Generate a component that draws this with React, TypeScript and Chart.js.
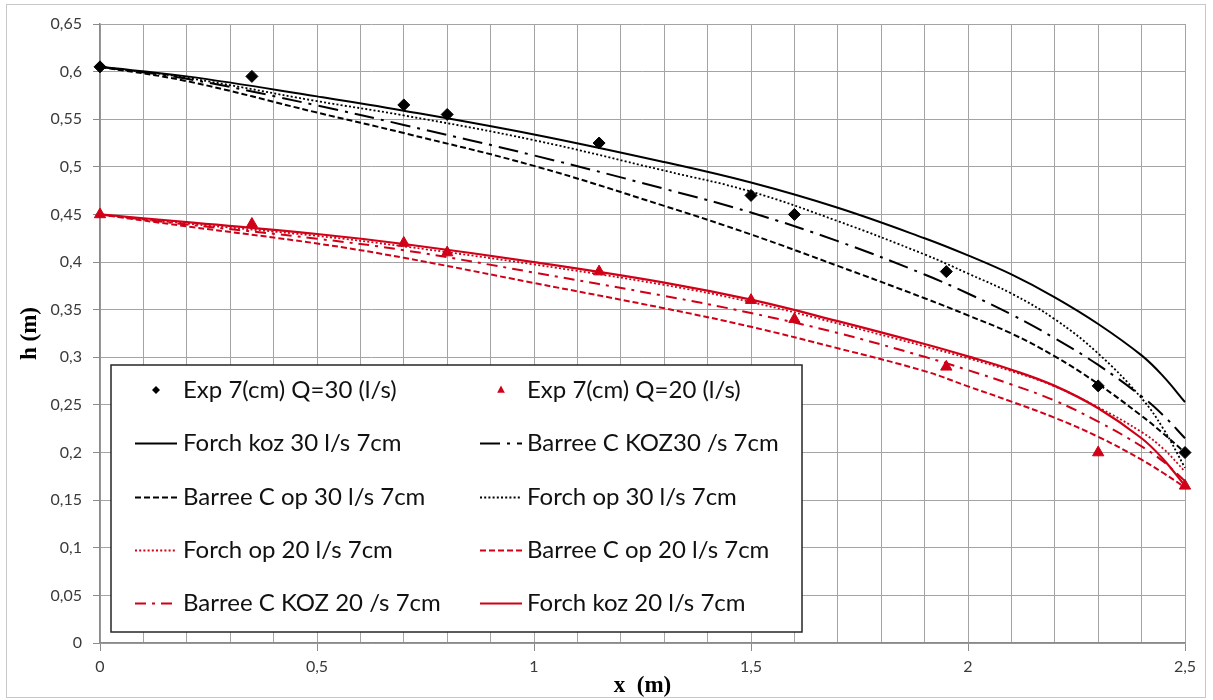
import React, { useEffect, useRef } from 'react';
import { Chart, registerables } from 'chart.js';

Chart.register(...registerables);

// ---- data ----
const expX = [0, 0.35, 0.7, 0.8, 1.15, 1.5, 1.6, 1.95, 2.3, 2.5];
const exp30 = [0.605, 0.595, 0.565, 0.555, 0.525, 0.47, 0.45, 0.39, 0.27, 0.2];
const exp20 = [0.45, 0.44, 0.42, 0.41, 0.39, 0.36, 0.34, 0.29, 0.2, 0.165];

const curveX = [0, 0.2, 0.5, 0.7, 1.0, 1.3, 1.5, 1.7, 1.9, 2.0, 2.1, 2.2, 2.3, 2.4, 2.45, 2.5];
const forchKoz30 = [0.605, 0.595, 0.574, 0.559, 0.534, 0.505, 0.4835, 0.457, 0.425, 0.407, 0.387, 0.363, 0.335, 0.302, 0.28, 0.253];
const barreeKoz30 = [0.605, 0.5925, 0.5645, 0.544, 0.512, 0.477, 0.452, 0.422, 0.387, 0.367, 0.345, 0.32, 0.292, 0.259, 0.239, 0.215];
const barreeOp30 = [0.605, 0.59, 0.557, 0.5355, 0.501, 0.459, 0.429, 0.396, 0.362, 0.344, 0.325, 0.301, 0.272, 0.2385, 0.22, 0.2];
const forchOp30 = [0.605, 0.5935, 0.569, 0.554, 0.528, 0.496, 0.474, 0.443, 0.408, 0.388, 0.367, 0.34, 0.304, 0.257, 0.225, 0.184];
const forchOp20 = [0.45, 0.4405, 0.4275, 0.4165, 0.3975, 0.376, 0.358, 0.3355, 0.3115, 0.299, 0.2855, 0.2695, 0.2475, 0.2215, 0.204, 0.18];
const barreeOp20 = [0.45, 0.4375, 0.4195, 0.4045, 0.378, 0.3515, 0.332, 0.3095, 0.2855, 0.2695, 0.2535, 0.2365, 0.2165, 0.1925, 0.1785, 0.1635];
const barreeKoz20 = [0.45, 0.4395, 0.4245, 0.4125, 0.389, 0.3645, 0.3465, 0.3255, 0.3005, 0.2865, 0.2715, 0.2545, 0.2325, 0.2065, 0.1905, 0.17];
const forchKoz20 = [0.45, 0.442, 0.4295, 0.419, 0.4, 0.3785, 0.3605, 0.338, 0.314, 0.301, 0.287, 0.27, 0.2465, 0.215, 0.193, 0.165];

const seriesLabels = [
  'Exp 7(cm) Q=30 (l/s)',
  'Exp 7(cm) Q=20 (l/s)',
  'Forch koz 30 l/s 7cm',
  'Barree C KOZ30 /s 7cm',
  'Barree C op 30 l/s 7cm',
  'Forch op 30 l/s 7cm',
  'Forch op 20 l/s 7cm',
  'Barree C op 20 l/s 7cm',
  'Barree C KOZ 20 /s 7cm',
  'Forch koz 20 l/s 7cm',
];

const X_MIN = 0;
const X_MAX = 2.5;
const X_STEP = 0.1;
const Y_MIN = 0;
const Y_MAX = 0.65;
const Y_STEP = 0.05;

const BLACK = '#000000';
const RED = '#d00018';
const GRID = '#a4a4a4';
const AXIS = '#8a8a8a';

const toPts = (xs: number[], ys: number[]) => xs.map((x, i) => ({ x, y: ys[i] }));
const fmt = (v: number) => String(Number(v.toFixed(2))).replace('.', ',');
const isHalf = (v: number) => Math.abs(v * 2 - Math.round(v * 2)) < 1e-6;

const curve = (label: string, ys: number[], color: string, width: number, dash: number[]) => ({
  label,
  data: toPts(curveX, ys),
  showLine: true,
  borderColor: color,
  backgroundColor: color,
  borderWidth: width,
  borderDash: dash,
  pointRadius: 0,
  pointHoverRadius: 0,
  tension: 0.4,
  clip: false as const,
});

const legendPlugin = {
  id: 'insideLegend',
  afterDatasetsDraw(chart: any) {
    const ctx: CanvasRenderingContext2D = chart.ctx;
    const box = { x: 111, y: 365, w: 691, h: 267 };
    const rowY0 = 390;
    const rowStep = 53.3;
    const sampleX = [135, 480];
    const sampleW = 42;
    const textX = [183, 527];
    ctx.save();
    ctx.fillStyle = '#ffffff';
    ctx.fillRect(box.x, box.y, box.w, box.h);
    ctx.strokeStyle = '#262626';
    ctx.lineWidth = 1.5;
    ctx.setLineDash([]);
    ctx.strokeRect(box.x, box.y, box.w, box.h);
    chart.data.datasets.forEach((ds: any, i: number) => {
      const row = Math.floor(i / 2);
      const col = i % 2;
      const y = Math.round(rowY0 + row * rowStep);
      ctx.save();
      if (ds.showLine) {
        ctx.strokeStyle = ds.borderColor;
        ctx.lineWidth = ds.borderWidth;
        ctx.setLineDash(ds.borderDash || []);
        ctx.beginPath();
        ctx.moveTo(sampleX[col], y + 0.5);
        ctx.lineTo(sampleX[col] + sampleW, y + 0.5);
        ctx.stroke();
      } else {
        const cx = sampleX[col] + sampleW / 2;
        ctx.fillStyle = ds.backgroundColor;
        ctx.beginPath();
        if (ds.pointStyle === 'rectRot') {
          const r = 4;
          ctx.moveTo(cx, y - r);
          ctx.lineTo(cx + r, y);
          ctx.lineTo(cx, y + r);
          ctx.lineTo(cx - r, y);
        } else {
          const r = 4.5;
          ctx.moveTo(cx, y - r);
          ctx.lineTo(cx + r * 0.85, y + r * 0.6);
          ctx.lineTo(cx - r * 0.85, y + r * 0.6);
        }
        ctx.closePath();
        ctx.fill();
      }
      ctx.restore();
      ctx.fillStyle = '#111111';
      ctx.font = '24px Lato';
      ctx.textBaseline = 'middle';
      ctx.textAlign = 'left';
      ctx.fillText(ds.label, textX[col], y);
    });
    ctx.restore();
  },
};

export default function App() {
  const ref = useRef<HTMLCanvasElement>(null);

  useEffect(() => {
    const canvas = ref.current;
    if (!canvas) return;
    const chart = new Chart(canvas, {
      type: 'scatter',
      data: {
        datasets: [
          {
            label: seriesLabels[0],
            data: toPts(expX, exp30),
            pointStyle: 'rectRot',
            pointRadius: 6,
            backgroundColor: BLACK,
            borderColor: BLACK,
            borderWidth: 1,
            showLine: false,
            clip: false,
          },
          {
            label: seriesLabels[1],
            data: toPts(expX, exp20),
            pointStyle: 'triangle',
            pointRadius: 6.5,
            backgroundColor: RED,
            borderColor: RED,
            borderWidth: 1,
            showLine: false,
            clip: false,
          },
          curve(seriesLabels[2], forchKoz30, BLACK, 2, []),
          curve(seriesLabels[3], barreeKoz30, BLACK, 2, [20, 7, 3, 7]),
          curve(seriesLabels[4], barreeOp30, BLACK, 2, [6, 3]),
          curve(seriesLabels[5], forchOp30, BLACK, 1.8, [2, 2.2]),
          curve(seriesLabels[6], forchOp20, RED, 1.8, [2, 2.2]),
          curve(seriesLabels[7], barreeOp20, RED, 2, [6, 3]),
          curve(seriesLabels[8], barreeKoz20, RED, 2, [11, 6, 3, 6]),
          curve(seriesLabels[9], forchKoz20, RED, 2.2, []),
        ] as any,
      },
      options: {
        animation: false,
        responsive: false,
        maintainAspectRatio: false,
        devicePixelRatio: 1,
        layout: { padding: { left: 0, top: 24, right: 28, bottom: 0 } },
        plugins: {
          legend: { display: false },
          tooltip: { enabled: false },
        },
        scales: {
          x: {
            type: 'linear',
            min: X_MIN,
            max: X_MAX,
            afterFit: (s: any) => {
              s.height = 57;
            },
            afterBuildTicks: (s: any) => {
              const t = [];
              for (let v = X_MIN; v <= X_MAX + 1e-9; v += X_STEP) t.push({ value: Number(v.toFixed(2)) });
              s.ticks = t;
            },
            ticks: {
              autoSkip: false,
              maxRotation: 0,
              padding: 6,
              color: '#3a3a3a',
              font: { family: 'Lato', size: 16 },
              callback: (v: any) => (isHalf(Number(v)) ? fmt(Number(v)) : ''),
            },
            grid: {
              color: GRID,
              lineWidth: 1,
              tickLength: 8,
              tickColor: (c: any) => (c.tick && isHalf(c.tick.value) ? AXIS : 'rgba(0,0,0,0)'),
            },
            border: { color: AXIS, width: 1.5 },
            title: {
              display: true,
              text: 'x  (m)',
              color: '#000',
              font: { family: 'Liberation Serif', size: 23, weight: 'bold' },
              padding: { top: 0, bottom: 0 },
            },
          },
          y: {
            type: 'linear',
            min: Y_MIN,
            max: Y_MAX,
            afterFit: (s: any) => {
              s.width = 100;
            },
            afterBuildTicks: (s: any) => {
              const t = [];
              for (let v = Y_MIN; v <= Y_MAX + 1e-9; v += Y_STEP) t.push({ value: Number(v.toFixed(2)) });
              s.ticks = t;
            },
            ticks: {
              autoSkip: false,
              padding: 11,
              color: '#3a3a3a',
              font: { family: 'Lato', size: 16 },
              callback: (v: any) => fmt(Number(v)),
            },
            grid: {
              color: GRID,
              lineWidth: 1,
              tickLength: 7,
              tickColor: AXIS,
            },
            border: { color: AXIS, width: 1.5 },
            title: {
              display: true,
              text: 'h (m)',
              color: '#000',
              font: { family: 'Liberation Serif', size: 23, weight: 'bold' },
              padding: { top: 16, bottom: 0 },
            },
          },
        },
      },
      plugins: [legendPlugin],
    } as any);
    return () => chart.destroy();
  }, []);

  return (
    <div style={{ position: 'fixed', left: 0, top: 0, width: 1213, height: 700, background: '#ffffff' }}>
      <canvas ref={ref} width={1213} height={700} style={{ display: 'block' }} />
      <div
        style={{
          position: 'absolute',
          left: 6,
          top: 4,
          width: 1200,
          height: 694,
          border: '1px solid #c8c8c8',
          boxSizing: 'border-box',
          pointerEvents: 'none',
        }}
      />
    </div>
  );
}
